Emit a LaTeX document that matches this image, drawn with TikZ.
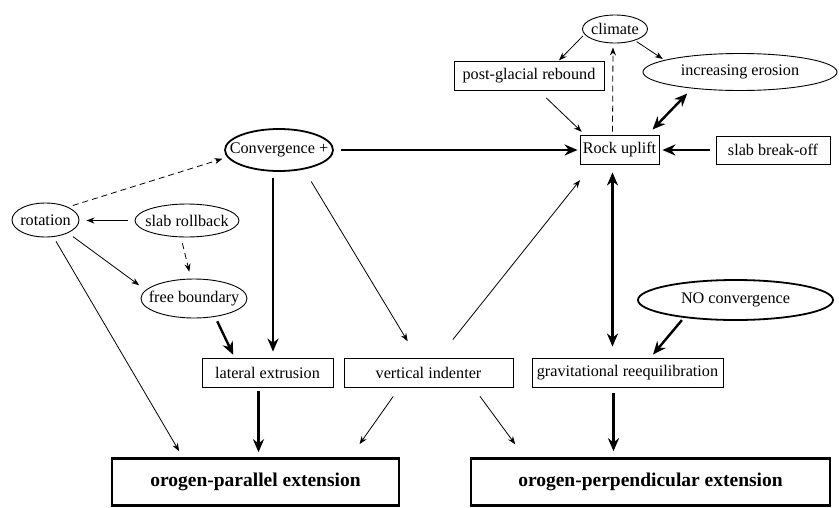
\documentclass[tikz,border=0pt]{standalone}
\usepackage{fontspec}
\setmainfont{Liberation Serif}
\usetikzlibrary{shapes.geometric,arrows.meta,calc}
\newcommand\zclap[1]{\makebox[0pt]{#1}}
\begin{document}
\begin{tikzpicture}[x=1pt,y=-1pt,
 font=\fontsize{16.2}{19}\selectfont,
 box/.style={draw, rectangle, inner sep=0pt, line width=0.9pt},
 ell/.style={draw, ellipse, inner sep=0pt, line width=0.9pt},
 big/.style={draw, rectangle, inner sep=0pt, line width=2.6pt, font=\fontsize{19.5}{23}\selectfont\bfseries},
 thinarr/.style={line width=0.8pt, -{Stealth[length=8pt,width=6pt]}},
 dasharr/.style={thinarr, dash pattern=on 6pt off 4pt},
 thickarr/.style={line width=2.4pt, -{Stealth[length=13pt,width=11pt]}},
 dblarr/.style={line width=2.4pt, {Stealth[length=13pt,width=11pt]}-{Stealth[length=13pt,width=11pt]}},
]
\useasboundingbox (0,0) rectangle (839,507);

% nodes
\node[ell, minimum width=65, minimum height=28] (climate) at (615,29) {\zclap{climate}};
\node[box, minimum width=150, minimum height=29] (pgr) at (529,76) {post-glacial rebound};
\node[ell, minimum width=194, minimum height=37] (erosion) at (740,72) {\zclap{increasing erosion}};
\node[box, minimum width=79, minimum height=29] (rock) at (619.5,149.5) {Rock uplift};
\node[box, minimum width=114, minimum height=28] (sbo) at (773,150) {slab break-off};
\node[ell, line width=1.8pt, minimum width=108, minimum height=42] (conv) at (279,150) {\zclap{Convergence +}};
\node[ell, minimum width=67, minimum height=34] (rotation) at (45.5,220) {\zclap{rotation}};
\node[ell, minimum width=104, minimum height=33] (slab) at (187,220.5) {\zclap{slab rollback}};
\node[ell, minimum width=106, minimum height=39] (fb) at (194,298.5) {\zclap{free boundary}};
\node[box, minimum width=131, minimum height=29] (lat) at (267.5,372.5) {lateral extrusion};
\node[box, minimum width=169, minimum height=29] (ind) at (428.5,372.5) {vertical indenter};
\node[box, minimum width=191, minimum height=29] (grav) at (627.5,372.5) {gravitational reequilibration};
\node[ell, line width=1.8pt, minimum width=195, minimum height=40] (noc) at (735.5,300) {\zclap{NO convergence}};
\node[big, minimum width=287, minimum height=47] (par) at (255.5,482) {orogen-parallel extension};
\node[big, minimum width=359, minimum height=47] (perp) at (650.5,482) {orogen-perpendicular extension};

% connectors
\draw[thinarr, shorten <=2pt, shorten >=1pt] (climate.190) -- (pgr.27);
\draw[thinarr, shorten <=2pt, shorten >=2pt] (climate.-30) -- (erosion.171);
\draw[dasharr, shorten <=3pt, shorten >=4pt] ([xshift=-7pt]rock.north) -- ([xshift=-2pt]climate.south);
\draw[thinarr, shorten <=10pt, shorten >=4pt] ([xshift=10pt]pgr.south) -- ([xshift=5pt]rock.north west);
\draw[dblarr, shorten <=7pt, shorten >=7pt] (rock.28) -- (erosion.199);
\draw[thickarr, shorten <=6pt, shorten >=3pt] (sbo.west) -- (sbo.west -| rock.east);
\draw[thickarr, shorten <=7pt, shorten >=2pt] (conv.east) -- (conv.east -| rock.west);
\draw[thinarr, shorten <=23pt, shorten >=20pt] ([xshift=10pt]ind.north) -- ([xshift=13pt]rock.south west);
\draw[dblarr, shorten <=8pt, shorten >=11pt] ([xshift=-7pt]rock.south) -- ([xshift=-7pt]rock.south |- grav.north);
\draw[thickarr, shorten <=3pt, shorten >=4pt] (noc.199) -- ([xshift=23pt]grav.north);
\draw[thickarr, shorten <=6pt, shorten >=6pt] ([xshift=-14pt]grav.south) -- ([xshift=-14pt]grav.south |- perp.north);
\draw[thickarr, shorten <=6pt, shorten >=6pt] ([xshift=-6pt]conv.south) -- ([xshift=-6pt]conv.south |- lat.north);
\draw[thinarr, shorten <=14pt, shorten >=19pt] (conv.-38) -- ([xshift=-11pt]ind.north);
\draw[dasharr, shorten <=5pt, shorten >=5pt] (rotation.30) -- (conv.188);
\draw[thinarr, shorten <=7pt, shorten >=7pt] (slab.west) -- (slab.west -| rotation.east);
\draw[dasharr, shorten <=6pt, shorten >=7pt] ([xshift=-6pt]slab.south) -- ([xshift=-3pt]fb.north);
\draw[thinarr, shorten <=6pt, shorten >=8pt] (rotation.-30) -- (fb.170);
\draw[thinarr, shorten <=5pt, shorten >=7pt] (rotation.-65) -- ([xshift=72pt]par.north west);
\draw[thickarr, shorten <=5pt, shorten >=3pt] (fb.-41) -- ([xshift=33pt]lat.north west);
\draw[thickarr, shorten <=4pt, shorten >=5pt] ([xshift=-9pt]lat.south) -- ([xshift=-9pt]lat.south |- par.north);
\draw[thinarr, shorten <=11pt, shorten >=16pt] ([xshift=56pt]ind.south west) -- ([xshift=-50pt]par.north east);
\draw[thinarr, shorten <=11pt, shorten >=16pt] ([xshift=-40pt]ind.south east) -- ([xshift=55pt]perp.north west);
\end{tikzpicture}
\end{document}
